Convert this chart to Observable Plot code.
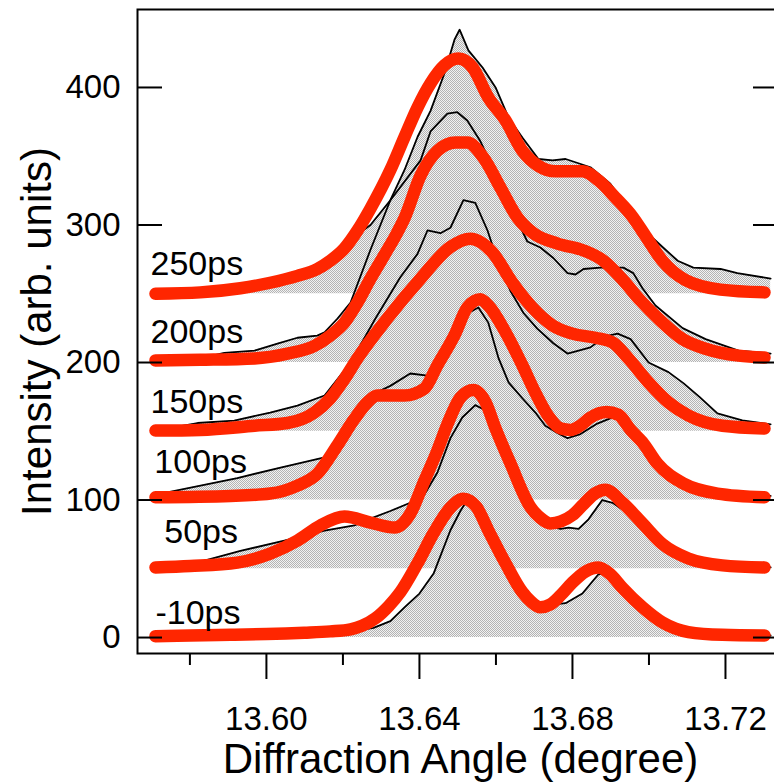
<!DOCTYPE html>
<html>
<head>
<meta charset="utf-8">
<script src="https://cdn.jsdelivr.net/npm/d3@7"></script>
<script src="https://cdn.jsdelivr.net/npm/@observablehq/plot@0.6"></script>
<style>
  html, body { margin: 0; padding: 0; background: #fff; overflow: hidden; }
</style>
</head>
<body>
<div id="chart"></div>
<script>
// ---- data ----
const delays  = ["-10ps", "50ps", "100ps", "150ps", "200ps", "250ps"];
const offsets = [0, 50, 100, 150, 200, 250];
// label anchor positions (data units, baseline-left of each delay label)
const labelX = [13.5710, 13.5733, 13.5707, 13.5697, 13.5697, 13.5697];
const labelY = [10.2, 69, 120, 163, 214.5, 263.3];

const xMajor = [13.60, 13.64, 13.68, 13.72];
const xMinor = [13.58, 13.62, 13.66, 13.70];
const yTicks = [0, 100, 200, 300, 400];

// experimental profiles (black lines)
const exp_m10 = [[13.5699,0.5],[13.5906,1],[13.6099,2],[13.6199,3.5],[13.6280,7],[13.6324,12],[13.6361,22],[13.6400,32],[13.6437,46.5],[13.6481,78],[13.6507,92],[13.6525,100],[13.6546,99],[13.6586,80],[13.6633,52],[13.6682,30],[13.6716,23],[13.6748,24],[13.6782,25],[13.6826,32],[13.6868,46],[13.6886,47],[13.6939,35],[13.6991,22],[13.7017,17],[13.7048,12],[13.7103,7],[13.7176,4],[13.7244,3],[13.7318,1.5]];
const exp_50 = [[13.5699,51],[13.5801,53],[13.5838,56],[13.5932,63],[13.6047,70.5],[13.6152,77.8],[13.6230,81.5],[13.6272,86.5],[13.6324,92],[13.6376,98],[13.6413,104],[13.6447,120],[13.6481,145],[13.6512,160],[13.6546,169],[13.6567,166],[13.6586,160],[13.6625,138],[13.6664,116],[13.6708,87],[13.6737,81],[13.6769,79],[13.6790,80],[13.6816,79],[13.6842,86],[13.6878,100],[13.6905,98],[13.6952,89],[13.6999,76],[13.7035,70.5],[13.7103,59.5],[13.7187,55.5],[13.7278,54],[13.7318,51]];
const exp_100 = [[13.5699,101],[13.5741,105.5],[13.5924,116],[13.6037,123.6],[13.6152,131],[13.6186,138],[13.6230,158],[13.6282,177.5],[13.6324,183],[13.6376,192],[13.6421,190.5],[13.6455,205],[13.6494,222],[13.6528,236],[13.6554,240],[13.6580,229],[13.6607,203],[13.6633,185.5],[13.6669,174],[13.6703,163.6],[13.6729,154],[13.6763,148.4],[13.6787,145],[13.6821,148],[13.6865,155.6],[13.6918,161.5],[13.6946,159],[13.6978,146],[13.7004,131],[13.7048,119],[13.7090,109],[13.7187,105.5],[13.7318,103]];
const exp_150 = [[13.5699,150],[13.5820,156],[13.5916,157.8],[13.6010,163.6],[13.6081,168.7],[13.6152,176],[13.6220,200],[13.6285,232],[13.6350,262],[13.6395,279],[13.6421,296],[13.6455,294],[13.6481,298],[13.6515,318],[13.6546,316],[13.6578,296],[13.6604,274],[13.6638,252],[13.6672,236],[13.6708,224.7],[13.6750,214],[13.6787,206.5],[13.6821,209],[13.6847,211],[13.6886,219],[13.6918,221],[13.6952,217],[13.6999,200],[13.7051,193],[13.7090,185],[13.7132,175],[13.7179,163],[13.7244,158],[13.7318,155]];
const exp_200 = [[13.5699,201],[13.5827,203],[13.5890,207],[13.5969,208.7],[13.6029,213.8],[13.6081,218],[13.6133,219.6],[13.6152,222],[13.6186,232],[13.6220,243.6],[13.6272,282],[13.6324,318],[13.6403,347],[13.6429,368],[13.6473,381],[13.6499,382],[13.6525,376],[13.6559,361],[13.6586,345],[13.6620,327],[13.6656,303],[13.6682,288],[13.6716,283.6],[13.6750,276],[13.6787,265],[13.6808,264],[13.6829,268],[13.6873,269],[13.6933,269],[13.6959,265],[13.6983,254],[13.7017,241.5],[13.7088,225],[13.7148,217],[13.7234,208.7],[13.7318,206.5]];
const exp_250 = [[13.5699,250],[13.5827,252],[13.5958,258],[13.6081,265],[13.6133,269.5],[13.6193,282],[13.6233,292],[13.6272,300],[13.6324,318],[13.6361,340],[13.6395,364],[13.6429,383],[13.6465,410],[13.6492,435],[13.6505,442],[13.6528,427],[13.6565,414.5],[13.6599,400],[13.6633,378],[13.6669,363.6],[13.6711,348],[13.6748,347],[13.6782,348],[13.6847,342],[13.6899,330],[13.6952,310],[13.7004,292],[13.7075,274],[13.7116,269],[13.7187,268],[13.7231,265],[13.7318,261]];

// calculated profiles (red open circles)
const fit_m10 = [[13.5710,1],[13.5801,1.5],[13.5906,2],[13.6000,2.5],[13.6099,3.5],[13.6167,4.5],[13.6220,6],[13.6250,8.5],[13.6285,14],[13.6320,23],[13.6350,33],[13.6395,54],[13.6437,76],[13.6481,94.5],[13.6515,101],[13.6549,95],[13.6580,78],[13.6625,54],[13.6669,33],[13.6692,26],[13.6716,22],[13.6742,24],[13.6770,31],[13.6800,40],[13.6834,48],[13.6868,51],[13.6899,46],[13.6931,36],[13.6983,22],[13.7035,11],[13.7103,4],[13.7192,2],[13.7302,1.5]];
const fit_50 = [[13.5710,51],[13.5801,52],[13.5924,54.5],[13.6010,61],[13.6081,70.5],[13.6141,81.5],[13.6204,88],[13.6272,83.6],[13.6335,80],[13.6376,90],[13.6413,114],[13.6447,136],[13.6473,155],[13.6507,174.5],[13.6541,180],[13.6573,171],[13.6599,152],[13.6638,126.5],[13.6690,95],[13.6716,87],[13.6742,83],[13.6770,84.5],[13.6800,89],[13.6829,97],[13.6860,105],[13.6886,107.5],[13.6931,98],[13.6983,83],[13.7035,68],[13.7103,57.5],[13.7192,52.5],[13.7302,51]];
const fit_100 = [[13.5710,102],[13.5906,103],[13.6010,104.7],[13.6081,110.5],[13.6133,119],[13.6186,140],[13.6230,159],[13.6264,171],[13.6290,176],[13.6324,176],[13.6361,176],[13.6413,181],[13.6447,198],[13.6492,220],[13.6525,240],[13.6559,246],[13.6580,241.5],[13.6625,222],[13.6669,198],[13.6703,178],[13.6737,161],[13.6770,152],[13.6795,151],[13.6820,154],[13.6847,160],[13.6889,164],[13.6920,162],[13.6952,151],[13.6983,142],[13.7022,126.5],[13.7090,112],[13.7179,104.7],[13.7302,102]];
const fit_150 = [[13.5710,150.5],[13.5827,151],[13.5969,154],[13.6055,156],[13.6125,163.6],[13.6167,174],[13.6204,188],[13.6238,203],[13.6316,232],[13.6403,261],[13.6481,284],[13.6533,290],[13.6591,280],[13.6643,258],[13.6695,240],[13.6748,227],[13.6800,221],[13.6860,218],[13.6905,214.5],[13.6946,203],[13.6999,185.5],[13.7051,171],[13.7103,161.5],[13.7192,154],[13.7302,152]];
const fit_200 = [[13.5710,201.5],[13.5827,202],[13.5969,203],[13.6055,206.5],[13.6125,212],[13.6167,219.6],[13.6204,229],[13.6238,243.6],[13.6272,261],[13.6308,278],[13.6342,294.5],[13.6361,305],[13.6403,336],[13.6447,354],[13.6494,360],[13.6525,360],[13.6567,349],[13.6612,327],[13.6656,305.5],[13.6698,294],[13.6761,286.5],[13.6829,281.5],[13.6881,274],[13.6933,259.6],[13.6978,245],[13.7030,230.5],[13.7088,217],[13.7148,210],[13.7234,205],[13.7302,203.6]];
const fit_250 = [[13.5710,250],[13.5827,251],[13.5932,254],[13.6010,258],[13.6081,263],[13.6133,268],[13.6167,274],[13.6204,283],[13.6238,296],[13.6272,312],[13.6324,340],[13.6361,364],[13.6395,385.5],[13.6429,403],[13.6465,416],[13.6502,421],[13.6539,414.5],[13.6580,392.7],[13.6625,376],[13.6669,354],[13.6711,343],[13.6756,339],[13.6826,339],[13.6868,332.4],[13.6912,320],[13.6957,306],[13.6991,292],[13.7035,274],[13.7095,260],[13.7187,253],[13.7302,251]];

// ---- build tables ----
const expSets = [exp_m10, exp_50, exp_100, exp_150, exp_200, exp_250];
const fitSets = [fit_m10, fit_50, fit_100, fit_150, fit_200, fit_250];
const toRows = sets => sets.flatMap((s, i) => s.map(([x, y]) => ({series: delays[i], base: offsets[i], x, y})));
const expRows = toRows(expSets);
const fitRows = toRows(fitSets);
const labelRows = delays.map((d, i) => ({text: d, x: labelX[i], y: labelY[i]}));

const RED = "#ff2600";
const FONT = "'Liberation Sans', Arial, Helvetica, sans-serif";

const chart = Plot.plot({
  width: 774,
  height: 784,
  marginLeft: 137,
  marginRight: -3,
  marginTop: 9,
  marginBottom: 131,
  x: {domain: [13.5663, 13.7336]},
  y: {domain: [-11.6, 456.7]},
  style: {fontFamily: FONT, color: "black", background: "white", overflow: "hidden"},
  marks: [
    Plot.areaY(expRows, {x: "x", y1: "base", y2: "y", z: "series", fill: "url(#stipple)"}),
    Plot.line(expRows, {x: "x", y: "y", z: "series", stroke: "black", strokeWidth: 1.8}),
    Plot.line(fitRows, {x: "x", y: "y", z: "series", stroke: RED, strokeWidth: 12.5,
      curve: "monotone-x", strokeLinecap: "round", strokeLinejoin: "round"}),
    Plot.frame({stroke: "black", strokeWidth: 2}),
    // ticks
    Plot.axisY(yTicks, {anchor: "left", tickSize: -25, strokeWidth: 2, fill: "none", label: null}),
    Plot.axisY(yTicks, {anchor: "right", tickSize: -25, strokeWidth: 2, fill: "none", label: null}),
    Plot.axisY(yTicks, {anchor: "left", tickSize: 0, tickPadding: 17, fontSize: 33, fontFamily: FONT, label: null}),
    Plot.axisX(xMajor, {anchor: "bottom", tickSize: 26, strokeWidth: 2, fill: "none", label: null}),
    Plot.axisX(xMinor, {anchor: "bottom", tickSize: 12, strokeWidth: 2, fill: "none", label: null}),
    Plot.axisX(xMajor, {anchor: "bottom", tickSize: 0, tickPadding: 53, fontSize: 33, fontFamily: FONT,
      tickFormat: d3.format(".2f"), label: null}),
    // delay labels
    Plot.text(labelRows, {x: "x", y: "y", text: "text", textAnchor: "start", lineAnchor: "bottom",
      fontSize: 34, fontFamily: FONT, fill: "black"}),
    // axis titles
    Plot.text(["Intensity (arb. units)"], {text: d => d, frameAnchor: "left", rotate: -90, dx: -87,
      lineAnchor: "bottom", textAnchor: "middle", fontSize: 42, fontFamily: FONT, fill: "black"}),
    Plot.text(["Diffraction Angle (degree)"], {text: d => d, frameAnchor: "bottom", dx: 3, dy: 119,
      lineAnchor: "bottom", textAnchor: "middle", fontSize: 42, fontFamily: FONT, fill: "black"})
  ]
});

// stippled gray fill pattern used by the areas
const ns = "http://www.w3.org/2000/svg";
const defs = document.createElementNS(ns, "defs");
defs.innerHTML = '<pattern id="stipple" width="2" height="2" patternUnits="userSpaceOnUse">' +
  '<rect width="2" height="2" fill="#f2f2f2"/>' +
  '<rect x="0" y="0" width="1" height="1" fill="#b4b4b4"/>' +
  '<rect x="1" y="1" width="1" height="1" fill="#b4b4b4"/></pattern>';
chart.insertBefore(defs, chart.firstChild);

document.getElementById("chart").appendChild(chart);
</script>
</body>
</html>
